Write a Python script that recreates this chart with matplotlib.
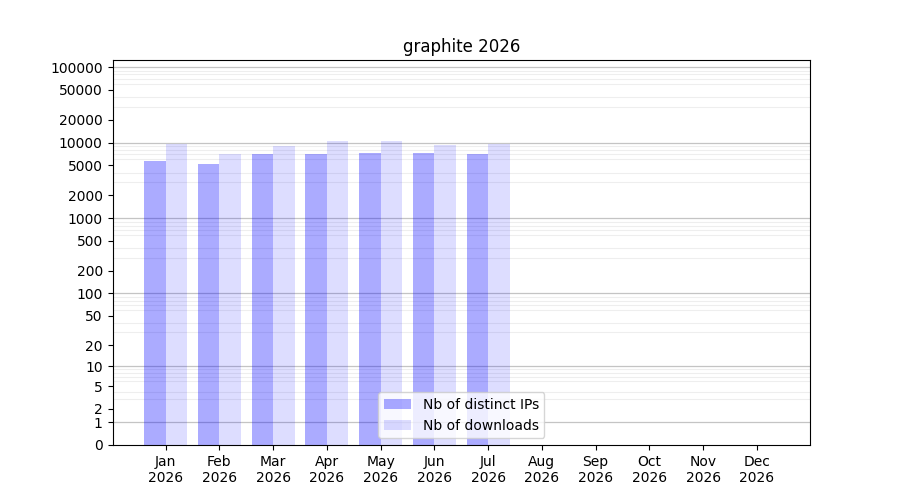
import numpy as np
import matplotlib
matplotlib.use("Agg")
import matplotlib.pyplot as plt

months = ["Jan", "Feb", "Mar", "Apr", "May", "Jun", "Jul", "Aug", "Sep", "Oct", "Nov", "Dec"]
year = "2026"
distinct_ips = [5700, 5200, 7050, 7050, 7250, 7250, 7050, 0, 0, 0, 0, 0]
downloads = [9550, 7050, 9000, 10450, 10450, 9250, 9550, 0, 0, 0, 0, 0]
ytick_vals = [0, 1, 2, 5, 10, 20, 50, 100, 200, 500, 1000, 2000, 5000, 10000, 20000, 50000, 100000]


def fwd(y):
    y = np.asarray(y, dtype=float)
    return np.log10(1 + np.clip(y, -0.999999, None))


def inv(y):
    return 10 ** np.asarray(y, dtype=float) - 1


fig, ax = plt.subplots(figsize=(9, 5), dpi=100)
x = np.arange(len(months))
w = 0.4
ax.bar(x - w / 2, distinct_ips, width=w, color="blue", alpha=0.33, label="Nb of distinct IPs", zorder=2)
ax.bar(x + w / 2, downloads, width=w, color="blue", alpha=0.135, label="Nb of downloads", zorder=2)

ax.set_yscale("function", functions=(fwd, inv))
ax.set_ylim(0, 124000)

ax.set_yticks(ytick_vals)
ax.set_yticklabels([str(v) for v in ytick_vals])
minor = [m * 10 ** d for d in range(0, 6) for m in range(2, 10) if m * 10 ** d < 124000]
ax.set_yticks(minor, minor=True)
ax.tick_params(axis="y", which="minor", length=0)
ax.grid(False)
ax.yaxis.grid(True, which="minor", color="#eeeeee", linewidth=0.8, zorder=0)
for d in range(0, 6):
    ax.axhline(10 ** d, color="#c4c4c4", linewidth=0.9, zorder=0.5)

ax.set_xticks(x)
ax.set_xticklabels([f"{m}\n{year}" for m in months])
ax.set_title("graphite 2026")
ax.legend(loc="lower center")

fig.savefig("out.png", dpi=100)
